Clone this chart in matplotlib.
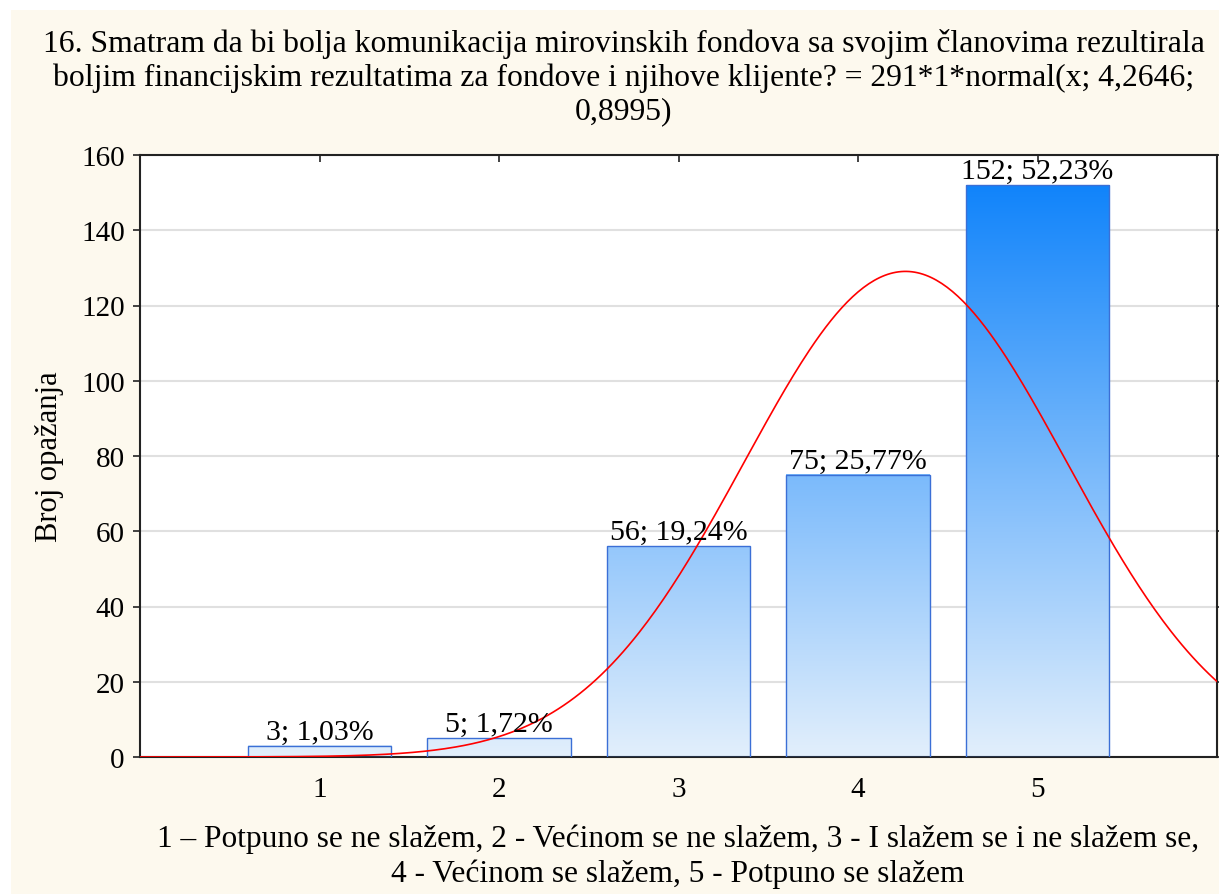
import matplotlib.pyplot as plt
import numpy as np
from matplotlib.patches import Rectangle

plt.rcParams['font.family'] = ['Liberation Serif', 'DejaVu Serif']

categories = [1, 2, 3, 4, 5]
counts = [3, 5, 56, 75, 152]
percents = ['1,03%', '1,72%', '19,24%', '25,77%', '52,23%']
n_total = 291
mu = 4.2646
sigma = 0.8995

title = ('16. Smatram da bi bolja komunikacija mirovinskih fondova sa svojim članovima rezultirala\n'
         'boljim financijskim rezultatima za fondove i njihove klijente? = 291*1*normal(x; 4,2646;\n'
         '0,8995)')
xlabel = ('1 – Potpuno se ne slažem, 2 - Većinom se ne slažem, 3 - I slažem se i ne slažem se,\n'
          '4 - Većinom se slažem, 5 - Potpuno se slažem')

fig = plt.figure(figsize=(12.19, 8.95), dpi=100)
fig.patches.append(Rectangle((11 / 1219, 0), 1, (895 - 11) / 895, transform=fig.transFigure,
                             facecolor='#fdf9ee', edgecolor='none', zorder=-10))
ax = fig.add_axes([140 / 1219, 1 - 758 / 895, (1217 - 140) / 1219, (758 - 156) / 895])
ax.set_facecolor('white')

# vertical gradient fill, same scale for every bar
ymax_grad = max(counts)
top_c = np.array([0x11, 0x84, 0xfa]) / 255
bot_c = np.array([0xe2, 0xef, 0xfc]) / 255
grad = np.linspace(0, 1, 256)[:, None]
cmap_img = bot_c[None, None, :] + grad[:, :, None] * (top_c - bot_c)[None, None, :]

bars = ax.bar(categories, counts, width=0.8, facecolor='none', edgecolor='#3b6fd6', linewidth=1.0, zorder=3)
for b, c, p in zip(bars, counts, percents):
    x0 = b.get_x()
    w = b.get_width()
    frac = c / ymax_grad
    img = cmap_img[: max(2, int(round(frac * 255)) + 1)]
    ax.imshow(img, extent=[x0, x0 + w, 0, c], origin='lower', aspect='auto', zorder=2)
    ax.text(x0 + w / 2, c + 0.3, f'{c}; {p}', ha='center', va='bottom', fontsize=21.5, zorder=5)

# fitted normal curve
xs = np.linspace(0, 6, 400)
ys = n_total * 1 / (sigma * np.sqrt(2 * np.pi)) * np.exp(-0.5 * ((xs - mu) / sigma) ** 2)
ax.plot(xs, ys, color='red', linewidth=1.2, zorder=4)

ax.set_xlim(0, 6)
ax.set_ylim(0, 160)
ax.set_xticks(categories)
ax.set_yticks(range(0, 161, 20))
ax.grid(axis='y', color='#e0e0e0', linewidth=1.5, zorder=0)
ax.set_axisbelow(True)
ax.tick_params(direction='in', top=True, right=True, labelsize=21, length=5, width=1.2,
               colors='#222222', labelcolor='black')
ax.tick_params(axis='x', pad=14)
ax.tick_params(axis='y', direction='out', pad=6)
for s in ax.spines.values():
    s.set_linewidth(1.5)
    s.set_color('#222222')

ax.set_ylabel('Broj opažanja', fontsize=22, labelpad=12)
fig.text(678 / 1219, 1 - 857 / 895, xlabel, ha='center', va='center', fontsize=22.6, linespacing=1.25)
fig.text(624 / 1219, 1 - 78 / 895, title, ha='center', va='center', fontsize=22.8, linespacing=1.2)

fig.savefig('out.png', dpi=100)
